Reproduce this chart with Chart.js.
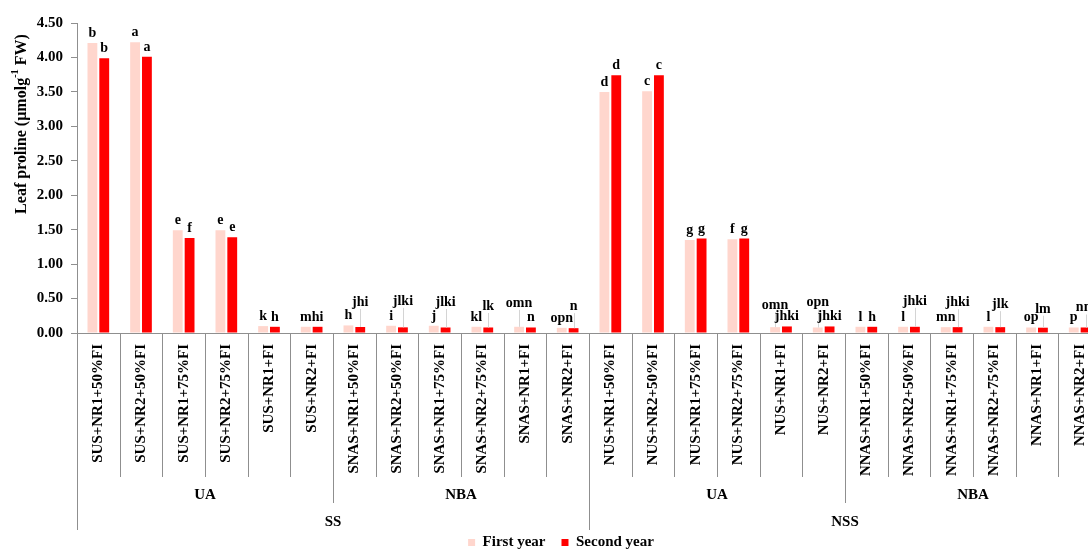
<!DOCTYPE html>
<html>
<head>
<meta charset="utf-8">
<script src="https://cdn.jsdelivr.net/npm/chart.js@4.4.0/dist/chart.umd.min.js"></script>
<style>
  html, body { margin: 0; padding: 0; background: #fff; overflow: hidden; }
  #wrap { width: 1088px; height: 550px; overflow: hidden; position: relative; }
  canvas { display: block; }
</style>
</head>
<body>
<div id="wrap"><canvas id="c" width="1108" height="560"></canvas></div>
<script>
// Treatments on the category axis
const treatments = [
  'SUS+NR1+50%FI', 'SUS+NR2+50%FI', 'SUS+NR1+75%FI', 'SUS+NR2+75%FI', 'SUS+NR1+FI', 'SUS+NR2+FI',
  'SNAS+NR1+50%FI', 'SNAS+NR2+50%FI', 'SNAS+NR1+75%FI', 'SNAS+NR2+75%FI', 'SNAS+NR1+FI', 'SNAS+NR2+FI',
  'NUS+NR1+50%FI', 'NUS+NR2+50%FI', 'NUS+NR1+75%FI', 'NUS+NR2+75%FI', 'NUS+NR1+FI', 'NUS+NR2+FI',
  'NNAS+NR1+50%FI', 'NNAS+NR2+50%FI', 'NNAS+NR1+75%FI', 'NNAS+NR2+75%FI', 'NNAS+NR1+FI', 'NNAS+NR2+FI'
];
// Second and third level of the axis
const amendGroups = ['UA', 'NBA', 'UA', 'NBA'];
const soilGroups = ['SS', 'NSS'];

const seriesNames = ['First year', 'Second year'];

// Leaf proline (µmol g-1 FW)
const firstYear = [
  4.21, 4.22, 1.49, 1.49, 0.10, 0.09,
  0.11, 0.105, 0.105, 0.09, 0.09, 0.075,
  3.50, 3.51, 1.35, 1.36, 0.085, 0.08,
  0.09, 0.09, 0.085, 0.09, 0.08, 0.08
];
const secondYear = [
  3.99, 4.01, 1.38, 1.39, 0.09, 0.09,
  0.087, 0.082, 0.08, 0.08, 0.08, 0.07,
  3.74, 3.74, 1.37, 1.37, 0.095, 0.095,
  0.09, 0.09, 0.085, 0.085, 0.077, 0.08
];

// Significance letters above each bar
const firstLetters = [
  'b', 'a', 'e', 'e', 'k', 'm',
  'h', 'i', 'j', 'kl', 'omn', 'opn',
  'd', 'c', 'g', 'f', 'omn', 'opn',
  'l', 'l', 'mn', 'l', 'op', 'p'
];
const secondLetters = [
  'b', 'a', 'f', 'e', 'h', 'hi',
  'jhi', 'jlki', 'jlki', 'lk', 'n', 'n',
  'd', 'c', 'g', 'g', 'jhki', 'jhki',
  'h', 'jhki', 'jhki', 'jlk', 'lm', 'nm'
];

const yTickValues = [0, 0.5, 1, 1.5, 2, 2.5, 3, 3.5, 4, 4.5];

const SERIF = "'Liberation Serif', 'Times New Roman', serif";
const AXIS_GREY = '#8f8f8f';

// Letters drawn above the bars; raised letters get a thin leader line
const letterPlugin = {
  id: 'letters',
  afterDatasetsDraw(chart, args, opts) {
    const { ctx } = chart;
    ctx.save();
    ctx.font = `bold ${opts.size}px ${SERIF}`;
    ctx.textAlign = 'center';
    ctx.textBaseline = 'alphabetic';
    const sets = [firstLetters, secondLetters];
    sets.forEach((letters, d) => {
      const meta = chart.getDatasetMeta(d);
      meta.data.forEach((bar, i) => {
        const lift = opts.lift[d][i] != null ? opts.lift[d][i] : opts.baseLift;
        const xb = bar.x;
        const top = bar.y;
        if (lift > opts.baseLift + 4) {
          ctx.strokeStyle = opts.leaderColor;
          ctx.lineWidth = 1;
          ctx.beginPath();
          ctx.moveTo(Math.round(xb) + 0.5, top - lift + 3);
          ctx.lineTo(Math.round(xb) + 0.5, top);
          ctx.stroke();
        }
      });
    });
    sets.forEach((letters, d) => {
      const meta = chart.getDatasetMeta(d);
      meta.data.forEach((bar, i) => {
        const lift = opts.lift[d][i] != null ? opts.lift[d][i] : opts.baseLift;
        ctx.fillStyle = '#000';
        ctx.fillText(letters[i], bar.x, bar.y - lift);
      });
    });
    ctx.restore();
  }
};

// Separators and group names below the category labels
const hierarchyPlugin = {
  id: 'hierarchy',
  afterDraw(chart, args, opts) {
    const { ctx, chartArea, scales: { x } } = chart;
    const n = treatments.length;
    const step = (x.right - x.left) / n;
    const y0 = chartArea.bottom;
    const perAmend = n / amendGroups.length;
    const perSoil = n / soilGroups.length;
    ctx.save();
    ctx.strokeStyle = opts.lineColor;
    ctx.lineWidth = 1;
    for (let i = 0; i <= n; i++) {
      const xb = Math.round(x.left + i * step) + 0.5;
      let depth = opts.depths[0];
      if (i % perSoil === 0) depth = opts.depths[2];
      else if (i % perAmend === 0) depth = opts.depths[1];
      ctx.beginPath();
      ctx.moveTo(xb, y0);
      ctx.lineTo(xb, y0 + depth);
      ctx.stroke();
    }
    ctx.fillStyle = '#000';
    ctx.font = `bold ${opts.size}px ${SERIF}`;
    ctx.textAlign = 'center';
    ctx.textBaseline = 'middle';
    amendGroups.forEach((g, k) => {
      const cx = x.left + (k + 0.5) * perAmend * step;
      ctx.fillText(g, cx, y0 + opts.textOffsets[0]);
    });
    soilGroups.forEach((g, k) => {
      const cx = x.left + (k + 0.5) * perSoil * step;
      ctx.fillText(g, cx, y0 + opts.textOffsets[1]);
    });
    ctx.restore();
  }
};

// Vertical axis title with a superscript
const yTitlePlugin = {
  id: 'ytitle',
  afterDraw(chart, args, opts) {
    const { ctx } = chart;
    const parts = [
      { t: 'Leaf proline (µmolg', s: opts.size, dy: 0 },
      { t: '-1', s: opts.size * 0.65, dy: -opts.size * 0.38 },
      { t: ' FW)', s: opts.size, dy: 0 }
    ];
    ctx.save();
    let total = 0;
    parts.forEach(p => { ctx.font = `bold ${p.s}px ${SERIF}`; p.w = ctx.measureText(p.t).width; total += p.w; });
    ctx.translate(opts.x, opts.y);
    ctx.rotate(-Math.PI / 2);
    ctx.fillStyle = '#000';
    ctx.textBaseline = 'middle';
    ctx.textAlign = 'left';
    let cx = -total / 2;
    parts.forEach(p => {
      ctx.font = `bold ${p.s}px ${SERIF}`;
      ctx.fillText(p.t, cx, p.dy + opts.size * 0.05);
      cx += p.w;
    });
    ctx.restore();
  }
};

const B = 6; // default letter lift above a bar
new Chart(document.getElementById('c'), {
  type: 'bar',
  data: {
    labels: treatments,
    datasets: [
      { label: seriesNames[0], data: firstYear, backgroundColor: '#FFD6CD',
        categoryPercentage: 0.555, barPercentage: 0.83 },
      { label: seriesNames[1], data: secondYear, backgroundColor: '#FF0000',
        categoryPercentage: 0.555, barPercentage: 0.83 }
    ]
  },
  options: {
    responsive: false,
    animation: false,
    events: [],
    layout: { padding: { top: 23, right: 7, left: 21, bottom: 0 } },
    scales: {
      x: {
        grid: { display: false },
        border: { display: true, color: AXIS_GREY },
        ticks: {
          autoSkip: false, minRotation: 90, maxRotation: 90, padding: 3,
          color: '#000', font: { family: SERIF, size: 15, weight: 'bold' }
        },
        afterFit: s => { s.height = 186; }
      },
      y: {
        min: 0, max: 4.5,
        afterBuildTicks: s => { s.ticks = yTickValues.map(v => ({ value: v })); },
        grid: { display: true, drawOnChartArea: false, drawTicks: true, tickLength: 6, color: AXIS_GREY },
        border: { display: true, color: AXIS_GREY },
        ticks: {
          padding: 8, color: '#000',
          font: { family: SERIF, size: 15, weight: 'bold' },
          callback: v => Number(v).toFixed(2)
        },
        afterFit: s => { s.width = 56; }
      }
    },
    plugins: {
      legend: {
        position: 'bottom',
        labels: {
          boxWidth: 7, boxHeight: 7, padding: 16, color: '#000',
          font: { family: SERIF, size: 15, weight: 'bold' }
        }
      },
      tooltip: { enabled: false },
      letters: {
        size: 14, baseLift: B, leaderColor: '#d4d4d4',
        lift: [
          [B, B, B, B, B, B, B, B, B, B, 20, B, B, B, B, B, 18, 21, B, B, B, B, B, B],
          [B, B, B, B, B, B, 21, 22.5, 21.5, 17.5, B, 18, B, B, B, B, B, B, B, 22, 21, 19, 15, 16]
        ]
      },
      hierarchy: { lineColor: AXIS_GREY, depths: [144, 170, 197], textOffsets: [162.5, 189.5], size: 15 },
      ytitle: { x: 21, y: 124, size: 16 }
    }
  },
  plugins: [letterPlugin, hierarchyPlugin, yTitlePlugin]
});
</script>
</body>
</html>
